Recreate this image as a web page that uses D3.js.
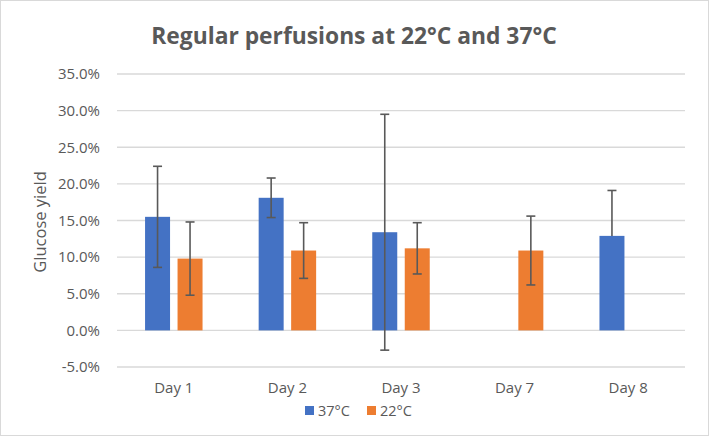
<!DOCTYPE html>
<html>
<head>
<meta charset="utf-8">
<style>
  body { margin: 0; background: #fff; font-family: "Open Sans", "Liberation Sans", sans-serif; }
  text { fill: #595959; }
</style>
<script src="https://cdn.jsdelivr.net/npm/d3@7"></script>
</head>
<body>
<script>
// data (fractions)
var days = ["Day 1", "Day 2", "Day 3", "Day 7", "Day 8"];
var series = ["37°C", "22°C"];
var yield37 = [0.155, 0.181, 0.134, null, 0.129];
var err37   = [0.069, 0.027, 0.161, null, 0.062];
var yield22 = [0.098, 0.109, 0.112, 0.109, null];
var err22   = [0.050, 0.038, 0.035, 0.047, null];
var minusShown37 = [true, true, true, null, false];
var yTicks = [-0.05, 0, 0.05, 0.10, 0.15, 0.20, 0.25, 0.30, 0.35];
var colors = ["#4472C4", "#ED7D31"];

var W = 709, H = 436;
var margin = {top: 74, right: 24, bottom: 69, left: 117};
var width = W - margin.left - margin.right,
    height = H - margin.top - margin.bottom;

var svg = d3.select("body").append("svg")
    .attr("width", W).attr("height", H);

svg.append("rect")
    .attr("x", 0.5).attr("y", 0.5)
    .attr("width", W - 1).attr("height", H - 1)
    .attr("fill", "#fff").attr("stroke", "#d9d9d9");

var g = svg.append("g")
    .attr("transform", `translate(${margin.left},${margin.top})`);

var x = d3.scaleBand().domain(days).range([0, width]);
var y = d3.scaleLinear().domain([-0.05, 0.35]).range([height, 0]);

// gridlines
g.append("g").selectAll("line")
  .data(yTicks)
  .enter().append("line")
    .attr("x1", 0).attr("x2", width)
    .attr("y1", d => y(d)).attr("y2", d => y(d))
    .attr("stroke", "#d9d9d9").attr("stroke-width", 1.3);

// y axis labels
var fmt = d3.format(".1%");
g.append("g").selectAll("text")
  .data(yTicks)
  .enter().append("text")
    .attr("x", -17).attr("y", d => y(d))
    .attr("dy", "0.35em")
    .attr("text-anchor", "end")
    .style("font-size", "15px")
    .text(d => fmt(d).replace("−", "-"));

// bars
var bw = x.bandwidth() * 0.22, gap = x.bandwidth() * 0.066;
var rows = [];
days.forEach(function(day, i) {
  rows.push({day: day, s: 0, v: yield37[i], e: err37[i], minus: minusShown37[i]});
  rows.push({day: day, s: 1, v: yield22[i], e: err22[i], minus: true});
});
rows = rows.filter(r => r.v != null);

function barX(r) {
  var c = x(r.day) + x.bandwidth() / 2;
  return r.s == 0 ? c - gap / 2 - bw : c + gap / 2;
}

g.append("g").selectAll("rect")
  .data(rows)
  .enter().append("rect")
    .attr("x", d => barX(d))
    .attr("y", d => y(d.v))
    .attr("width", bw)
    .attr("height", d => y(0) - y(d.v))
    .attr("fill", d => colors[d.s]);

// error bars
var eb = g.append("g").attr("stroke", "#595959").attr("stroke-width", 1.6);
rows.forEach(function(r) {
  var cx = barX(r) + bw / 2;
  var lo = r.minus ? r.v - r.e : r.v;
  var hi = r.v + r.e;
  eb.append("line").attr("x1", cx).attr("x2", cx).attr("y1", y(lo)).attr("y2", y(hi));
  eb.append("line").attr("x1", cx - 4.5).attr("x2", cx + 4.5).attr("y1", y(hi)).attr("y2", y(hi));
  if (r.minus)
    eb.append("line").attr("x1", cx - 4.5).attr("x2", cx + 4.5).attr("y1", y(lo)).attr("y2", y(lo));
});

// x labels
g.append("g").selectAll("text")
  .data(days)
  .enter().append("text")
    .attr("x", d => x(d) + x.bandwidth() / 2)
    .attr("y", height + 26)
    .attr("text-anchor", "middle")
    .style("font-size", "15px")
    .text(d => d);

// title
svg.append("text")
    .attr("x", 354).attr("y", 44)
    .attr("text-anchor", "middle")
    .style("font-size", "22.8px")
    .style("font-weight", "bold")
    .text("Regular perfusions at 22°C and 37°C");

// y title
svg.append("text")
    .attr("transform", "translate(46,222) rotate(-90)")
    .attr("text-anchor", "middle")
    .style("font-size", "16.5px")
    .text("Glucose yield");

// legend
var leg = svg.append("g").attr("transform", "translate(305,406)");
var lx = [0, 62];
series.forEach(function(s, i) {
  leg.append("rect").attr("x", lx[i]).attr("y", 0).attr("width", 9).attr("height", 9).attr("fill", colors[i]);
  leg.append("text").attr("x", lx[i] + 13).attr("y", 5).attr("dy", "0.35em")
    .style("font-size", "14.5px").text(s);
});
</script>
</body>
</html>
